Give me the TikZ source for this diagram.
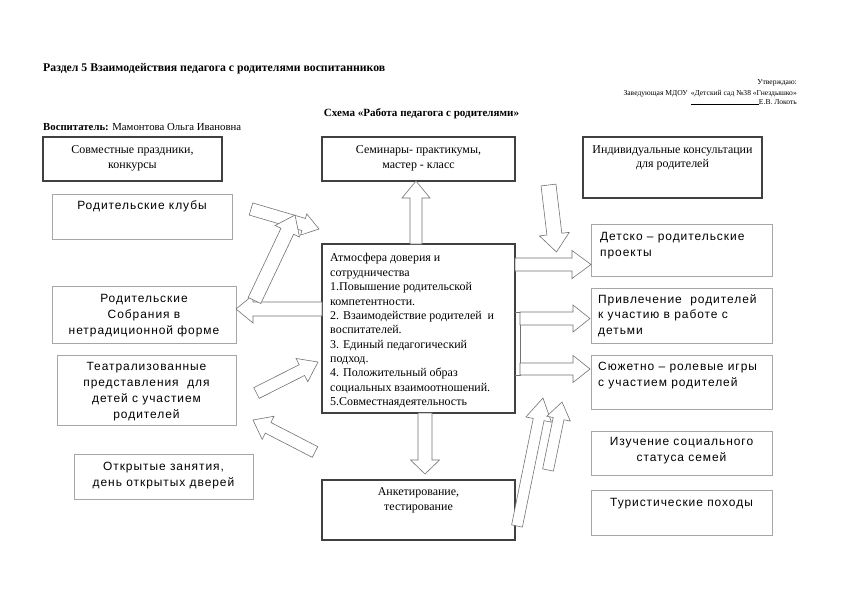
\documentclass[tikz,border=0pt]{standalone}
\usepackage{fontspec}
\setmainfont{Liberation Serif}
\newfontfamily\sansf[LetterSpace=8]{Liberation Sans}
\usetikzlibrary{calc}
\tikzset{
  dbox/.style={draw=black!75, line width=1.3bp, inner sep=0pt},
  lbox/.style={draw=black!35, line width=0.7bp, inner sep=0pt},
  stxt/.style={font=\fontsize{12}{15}\selectfont, inner sep=0pt, align=center},
  ctxt/.style={font=\fontsize{12}{14.4}\selectfont, inner sep=0pt, align=left},
  atxt/.style={font=\sansf\fontsize{12}{15.9}\selectfont, inner sep=0pt, align=center},
  altxt/.style={font=\sansf\fontsize{12}{15.7}\selectfont, inner sep=0pt, align=left},
  barr/.style={draw=black!55, line width=0.6bp, fill=white, line join=miter},
  small/.style={font=\fontsize{7.6}{9.5}\selectfont, inner sep=0pt}
}
% block arrow: tail, tip, shaft half-width, head half-width, head length (bp)
\newcommand\barrow[5]{%
  \coordinate (bc) at ($(#2)!#5bp!(#1)$);
  \draw[barr] ($(#1)!#3bp!90:(#2)$) -- ($(bc)!#3bp!90:(#2)$) -- ($(bc)!#4bp!90:(#2)$)
    -- (#2) -- ($(bc)!#4bp!-90:(#2)$) -- ($(bc)!#3bp!-90:(#2)$) -- ($(#1)!#3bp!-90:(#2)$) -- cycle;}
\begin{document}
\begin{tikzpicture}[x=1bp,y=-1bp]
\useasboundingbox[fill=white] (0,0) rectangle (842,595);

% header texts
\node[anchor=base west, font=\bfseries\fontsize{11.8}{13}\selectfont, inner sep=0pt] (title) at (43,72)
  {Раздел 5 Взаимодействия педагога с родителями воспитанников};
\node[small, anchor=base east] (utv) at (797,85) {Утверждаю:};
\node[small, anchor=base east] (zav) at (797,95.5) {Заведующая МДОУ \,«Детский сад №38 «Гнездышко»};
\node[small, anchor=base east] (sig) at (797,104.5) {\rule{68bp}{0.4pt}Е.В. Локоть};
\node[anchor=base, font=\bfseries\fontsize{11.1}{12}\selectfont, inner sep=0pt] (schema) at (421.5,117)
  {Схема «Работа педагога с родителями»};
\node[anchor=base west, font=\fontsize{10.8}{12}\selectfont, inner sep=0pt] (vosp) at (43,131)
  {\textbf{Воспитатель:} Мамонтова Ольга Ивановна};

% boxes
\node[dbox, minimum width=179bp, minimum height=44bp] (b1) at (132.5,159) {};
\node[dbox, minimum width=193bp, minimum height=44bp] (b2) at (418.5,159) {};
\node[dbox, minimum width=179bp, minimum height=61bp] (b3) at (672.5,167.5) {};
\node[lbox, minimum width=180bp, minimum height=45bp] (b4) at (142,216.5) {};
\node[lbox, minimum width=181bp, minimum height=52bp] (b5) at (681.5,250) {};
\node[dbox, minimum width=193bp, minimum height=169bp] (b6) at (418.5,328.5) {};
\node[lbox, minimum width=184bp, minimum height=57bp] (b7) at (144,314.5) {};
\node[lbox, minimum width=181bp, minimum height=55bp] (b8) at (681.5,315.5) {};
\node[lbox, minimum width=179bp, minimum height=70bp] (b9) at (146.5,390) {};
\node[lbox, minimum width=181bp, minimum height=54bp] (b10) at (681.5,382) {};
\node[lbox, minimum width=181bp, minimum height=44bp] (b11) at (681.5,453) {};
\node[lbox, minimum width=179bp, minimum height=45bp] (b12) at (163.5,476.5) {};
\node[dbox, minimum width=193bp, minimum height=60bp] (b13) at (418.5,510) {};
\node[lbox, minimum width=181bp, minimum height=45bp] (b14) at (681.5,512.5) {};

% box texts
\node[stxt, anchor=north] (t1) at (132.5,145) {Совместные праздники,\\конкурсы};
\node[stxt, anchor=north] (t2) at (418.5,145) {Семинары- практикумы,\\мастер - класс};
\node[stxt, anchor=north] (t3) at (672.5,145) {Индивидуальные консультации\\для родителей};
\node[atxt, anchor=north] (t4) at (142,201) {Родительские клубы};
\node[altxt, anchor=north west] (t5) at (600,232) {Детско – родительские\\проекты};
\node[ctxt, anchor=north west] (t6) at (330,253.5) {Атмосфера доверия и\\сотрудничества\\1.Повышение родительской\\компетентности.\\2. Взаимодействие родителей \ и\\воспитателей.\\3. Единый педагогический\\подход.\\4. Положительный образ\\социальных взаимоотношений.\\5.Совместнаядеятельность};
\node[atxt, anchor=north] (t7) at (144,294) {Родительские\\Собрания в\\нетрадиционной форме};
\node[altxt, anchor=north west] (t8) at (598,294) {Привлечение \ родителей\\к участию в работе с\\детьми};
\node[atxt, anchor=north] (t9) at (146.5,362.5) {Театрализованные\\представления \ для\\детей с участием\\родителей};
\node[altxt, anchor=north west] (t10) at (598,362) {Сюжетно – ролевые игры\\с участием родителей};
\node[atxt, anchor=north] (t11) at (681.5,437.5) {Изучение социального\\статуса семей};
\node[atxt, anchor=north] (t12) at (163.5,462) {Открытые занятия,\\день открытых дверей};
\node[stxt, anchor=north] (t13) at (418.5,487.5) {Анкетирование,\\тестирование};
\node[atxt, anchor=north] (t14) at (681.5,498) {Туристические походы};

% arrow end points
\coordinate (upT) at (416,244);   \coordinate (upH) at (416,181);
\coordinate (dnT) at (425,413);   \coordinate (dnH) at (425,474);
\coordinate (lfT) at (322,309);   \coordinate (lfH) at (236,309);
\coordinate (dgT) at (254.5,300.5); \coordinate (dgH) at (295,215);
\coordinate (clT) at (251,209);   \coordinate (clH) at (319,229);
\coordinate (tiT) at (256.5,393); \coordinate (tiH) at (318,362);
\coordinate (toT) at (315,452);   \coordinate (toH) at (253,420);
\coordinate (r1T) at (515,264.5); \coordinate (r1H) at (591,264.5);
\coordinate (r2T) at (520,318.5); \coordinate (r2H) at (590,318.5);
\coordinate (r3T) at (520,369);   \coordinate (r3H) at (590,369);
\coordinate (cnT) at (548.5,185); \coordinate (cnH) at (556.5,252);
\coordinate (p1T) at (517,526);   \coordinate (p1H) at (543,398);
\coordinate (p2T) at (548,470);   \coordinate (p2H) at (562,402);

% block arrows
\barrow{upT}{upH}{6}{14}{17}
\barrow{dnT}{dnH}{7}{14.5}{14}
\barrow{lfT}{lfH}{7}{14}{17}
\barrow{clT}{clH}{6.3}{11}{16}
\barrow{dgT}{dgH}{7}{13.5}{18}
\barrow{tiT}{tiH}{6}{13}{18}
\barrow{toT}{toH}{6}{13}{17}
\barrow{r1T}{r1H}{6.5}{14}{19}
\draw[draw=black!55, line width=0.6bp] (515,312) -- (520,312) -- (520,375) -- (515,375);
\barrow{r2T}{r2H}{6.5}{13.5}{17}
\barrow{r3T}{r3H}{6}{13.5}{17}
\barrow{cnT}{cnH}{7.5}{15}{18}
\barrow{p1T}{p1H}{5.5}{13}{22}
\barrow{p2T}{p2H}{5.5}{12}{17}
\end{tikzpicture}
\end{document}
